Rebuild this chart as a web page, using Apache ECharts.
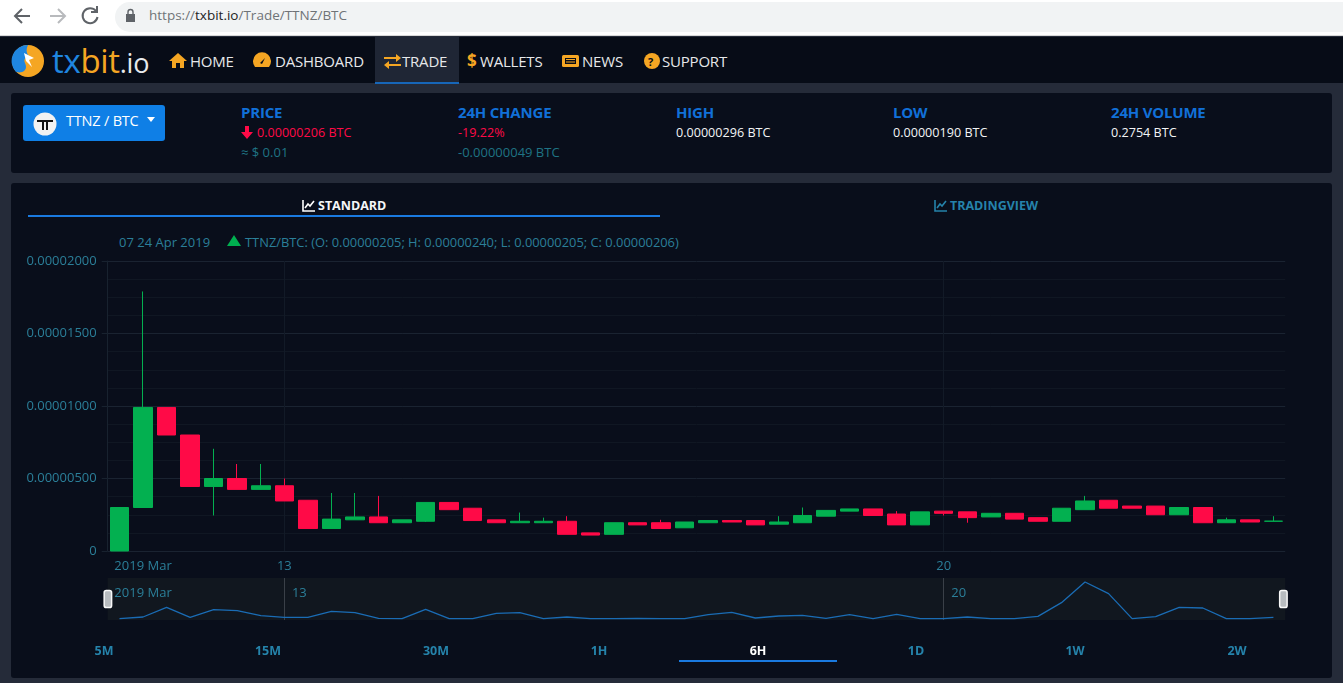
<!DOCTYPE html>
<html>
<head>
<meta charset="utf-8">
<title>TTNZ/BTC</title>
<script src="https://cdn.jsdelivr.net/npm/echarts@6/dist/echarts.min.js"></script>
<style>
  html, body { margin: 0; padding: 0; width: 1343px; height: 683px; overflow: hidden; background: #252b39; font-family: "Open Sans", sans-serif; }
  .abs { position: absolute; white-space: nowrap; line-height: 1; }
  #bar { position: absolute; left: 0; top: 0; width: 1343px; height: 36px; background: #fff; border-bottom: 1px solid #d8d8d8; box-sizing: border-box; }
  #pill { position: absolute; left: 115px; top: 2px; width: 1228px; height: 30px; border-radius: 15px 0 0 15px; background: #f1f3f4; }
  #nav { position: absolute; left: 0; top: 37px; width: 1343px; height: 46px; background: #070c17; }
  #tradeTab { position: absolute; left: 375px; top: 37px; width: 84px; height: 45px; background: #1f2635; border-bottom: 2px solid #1766b8; box-sizing: content-box; }
  .navtxt { color: #e6e8ea; font-size: 15px; top: 54px; letter-spacing: -0.2px; }
  .panel { position: absolute; left: 11px; width: 1321px; background: #090e1b; border-radius: 3px; }
  .hd { color: #1170d8; font-size: 15px; font-weight: 700; top: 105px; letter-spacing: -0.2px; }
  .val { color: #f2f4f6; font-size: 12.6px; top: 127px; }
  .sub { color: #1f7384; font-size: 13px; top: 146px; }
  .red { color: #ff0a47; }
  .tf { color: #2583ab; font-size: 12.5px; font-weight: 700; top: 645px; transform: translateX(-50%); }
  #chart { position: absolute; left: 0; top: 0; width: 1343px; height: 683px; }
</style>
</head>
<body>
<div id="bar"><div id="pill"></div></div>
<svg class="abs" style="left:0;top:0" width="140" height="36" fill="none" stroke-width="2">
  <path d="M30 16H16M22 9l-7 7 7 7" stroke="#5f6368"/>
  <path d="M50 16H64M58 9l7 7-7 7" stroke="#b8babd"/>
  <path d="M96 11a7.5 7.5 0 1 0 1.5 6M97 6v6h-6" stroke="#5f6368"/>
  <rect x="126" y="14" width="9" height="8" fill="#5f6368"/><path d="M128 14v-2a2.5 2.5 0 0 1 5 0v2" stroke="#5f6368" stroke-width="1.4"/>
</svg>
<div class="abs" style="left:149px;top:9px;font-size:13.5px;color:#6f7377">https://<span style="color:#222">txbit.io</span>/Trade/TTNZ/BTC</div>

<div id="nav"></div>
<div id="tradeTab"></div>
<svg class="abs" style="left:10px;top:43px" width="36" height="36">
  <circle cx="18" cy="18" r="16" fill="#f5a623"/>
  <path d="M18 2a16 16 0 0 0-12 27c8 2 12-3 9-9-2-4 1-6 4-7-3-3-3-7-1-11z" fill="#1f86e0"/>
  <path d="M14 10l10 5-5 2 3 7-6-6z" fill="#fff"/>
</svg>
<div class="abs" style="left:52px;top:44px;font-size:33px;letter-spacing:-0.3px;color:#1f86e0;font-family:'Open Sans'">tx<span style="color:#f5a623">bit</span><span style="color:#e8eaec;font-size:27px">.io</span></div>
<svg class="abs" style="left:168px;top:52px" width="570" height="18" fill="#f5a623">
  <path d="M1 9l9-8 9 8h-3v7h-4v-5H8v5H4V9z"/>
  <path d="M87 15a9 9 0 1 1 14 0zM94 12l3-6-5 5z"/>
  <path d="M216 5h12V2l5 4-5 4V7h-12zM233 12h-12V9l-5 4 5 4v-3h12z"/>
  <rect x="394" y="3" width="17" height="12" rx="1.5"/><rect x="397" y="6" width="11" height="6" fill="#070c17"/><rect x="398" y="7" width="9" height="1" /><rect x="398" y="9.5" width="9" height="1"/>
  <circle cx="484" cy="9" r="8"/>
</svg>
<div class="abs" style="left:467px;top:52px;font-size:17px;font-weight:700;color:#f5a623">$</div>
<div class="abs" style="left:648px;top:56px;font-size:11px;font-weight:700;color:#070c17">?</div>
<div class="abs navtxt" style="left:190px">HOME</div>
<div class="abs navtxt" style="left:275px">DASHBOARD</div>
<div class="abs navtxt" style="left:402px">TRADE</div>
<div class="abs navtxt" style="left:480px">WALLETS</div>
<div class="abs navtxt" style="left:582px">NEWS</div>
<div class="abs navtxt" style="left:662px">SUPPORT</div>

<div class="panel" style="top:93px;height:80px"></div>
<div class="panel" style="top:183px;height:495px"></div>

<div class="abs" style="left:23px;top:105px;width:142px;height:36px;background:#0f7fe6;border-radius:3px"></div>
<svg class="abs" style="left:33px;top:112px" width="24" height="24">
  <circle cx="12" cy="12" r="11.5" fill="#f2f2f2"/><path d="M4 8h16v2h-5v8h-2v-8h-2v8H9v-8H4z" fill="#111"/>
</svg>
<div class="abs" style="left:66px;top:114px;color:#fff;font-size:14.5px;letter-spacing:-0.2px">TTNZ / BTC</div>
<svg class="abs" style="left:147px;top:117px" width="9" height="6"><path d="M0 0h8l-4 5z" fill="#fff"/></svg>

<div class="abs hd" style="left:241px">PRICE</div>
<svg class="abs" style="left:241px;top:126px" width="12" height="13"><path d="M4 0h4v6h4l-6 7-6-7h4z" fill="#ff0a47"/></svg>
<div class="abs val red" style="left:257px">0.00000206 BTC</div>
<div class="abs sub" style="left:241px">≈ $ 0.01</div>
<div class="abs hd" style="left:458px">24H CHANGE</div>
<div class="abs val red" style="left:458px">-19.22%</div>
<div class="abs sub" style="left:458px">-0.00000049 BTC</div>
<div class="abs hd" style="left:676px">HIGH</div>
<div class="abs val" style="left:676px">0.00000296 BTC</div>
<div class="abs hd" style="left:893px">LOW</div>
<div class="abs val" style="left:893px">0.00000190 BTC</div>
<div class="abs hd" style="left:1111px">24H VOLUME</div>
<div class="abs val" style="left:1111px">0.2754 BTC</div>

<svg class="abs" style="left:302px;top:200px" width="13" height="12" fill="none" stroke="#fff" stroke-width="1.6"><path d="M1 0v11h12M3 8l3-4 2 2 4-5"/></svg>
<div class="abs" style="left:318px;top:200px;color:#f4f6f8;font-size:12.5px;font-weight:700">STANDARD</div>
<div class="abs" style="left:28px;top:215px;width:632px;height:2px;background:#1a7ae0"></div>
<svg class="abs" style="left:934px;top:200px" width="13" height="12" fill="none" stroke="#2583ab" stroke-width="1.6"><path d="M1 0v11h12M3 8l3-4 2 2 4-5"/></svg>
<div class="abs" style="left:950px;top:200px;color:#2583ab;font-size:12.5px;font-weight:700">TRADINGVIEW</div>

<div class="abs" style="left:119px;top:236px;color:#2b7f99;font-size:13px">07 24 Apr 2019</div>
<svg class="abs" style="left:227px;top:235px" width="14" height="11"><path d="M7 0l7 11H0z" fill="#00b050"/></svg>
<div class="abs" style="left:245px;top:236px;color:#2b7f99;font-size:12.88px">TTNZ/BTC: (O: 0.00000205; H: 0.00000240; L: 0.00000205; C: 0.00000206)</div>

<div id="chart"></div>

<div class="abs tf" style="left:104px">5M</div>
<div class="abs tf" style="left:268px">15M</div>
<div class="abs tf" style="left:436px">30M</div>
<div class="abs tf" style="left:599px">1H</div>
<div class="abs tf" style="left:758px;color:#fff">6H</div>
<div class="abs tf" style="left:916px">1D</div>
<div class="abs tf" style="left:1075px">1W</div>
<div class="abs tf" style="left:1237px">2W</div>
<div class="abs" style="left:679px;top:660px;width:158px;height:2px;background:#1a7ae0"></div>

<script>
// 6H candles, prices in satoshi (1e-8 BTC)
var categories = [
  '03-11 06', '03-11 12', '03-11 18', '03-12 00', '03-12 06', '03-12 12', '03-12 18',
  '03-13 00', '03-13 06', '03-13 12', '03-13 18', '03-14 00', '03-14 06', '03-14 12', '03-14 18',
  '03-15 00', '03-15 06', '03-15 12', '03-15 18', '03-16 00', '03-16 06', '03-16 12', '03-16 18',
  '03-17 00', '03-17 06', '03-17 12', '03-17 18', '03-18 00', '03-18 06', '03-18 12', '03-18 18',
  '03-19 00', '03-19 06', '03-19 12', '03-19 18', '03-20 00', '03-20 06', '03-20 12', '03-20 18',
  '03-21 00', '03-21 06', '03-21 12', '03-21 18', '03-22 00', '03-22 06', '03-22 12', '03-22 18',
  '03-23 00', '03-23 06', '03-23 12'
];
var opens = [0, 300, 990, 800, 445, 500, 425, 450, 350, 155, 215, 235, 195, 205, 335, 295, 215, 195, 195, 205,
  125, 115, 195, 195, 160, 195, 210, 210, 185, 195, 240, 275, 290, 255, 180, 275, 270, 235, 260, 230,
  205, 285, 350, 310, 310, 250, 300, 195, 215, 205];
var closes = [300, 990, 800, 445, 500, 425, 450, 345, 155, 220, 235, 195, 215, 335, 285, 210, 195, 205, 205, 115,
  110, 195, 180, 155, 200, 210, 200, 180, 200, 245, 280, 290, 245, 180, 270, 260, 230, 260, 220, 205,
  295, 345, 295, 295, 250, 300, 195, 215, 200, 206];
var highs = [300, 1790, 990, 800, 705, 600, 600, 500, 350, 400, 400, 380, 215, 335, 335, 295, 215, 265, 230, 240,
  125, 195, 195, 215, 200, 210, 210, 210, 240, 300, 280, 290, 290, 275, 270, 275, 270, 260, 260, 230,
  295, 380, 350, 310, 310, 300, 300, 230, 215, 240];
var lows = [0, 300, 800, 445, 245, 425, 425, 345, 155, 155, 215, 195, 195, 200, 285, 210, 195, 195, 195, 115,
  110, 115, 180, 155, 160, 195, 200, 180, 185, 195, 240, 275, 245, 180, 180, 245, 195, 235, 220, 205,
  205, 285, 295, 295, 250, 250, 195, 195, 200, 205];
// traded volume for the mini chart under the candles
var volumes = [1, 6, 35, 5, 28, 25, 10, 5, 5, 23, 19, 2, 1, 29, 1, 1, 17, 19, 1, 6, 1, 1, 2, 1, 1,
  13, 20, 3, 9, 11, 2, 13, 1, 14, 1, 1, 6, 1, 1, 8, 49, 111, 76, 1, 7, 35, 33, 1, 1, 5];
var tickLabels = { 1: '2019 Mar', 7: '13', 35: '20' };
var dayLines = [7, 35];

var candles = opens.map(function (o, i) {
  return [o, closes[i], lows[i], highs[i]];
});

var myChart = echarts.init(document.getElementById('chart'));
var textColor = '#2b7f99';
var option = {
  animation: false,
  backgroundColor: 'transparent',
  textStyle: { fontFamily: '"Open Sans", sans-serif' },
  grid: [
    { left: 107.7, top: 261, width: 1177.5, height: 290 },
    { left: 107.7, top: 578, width: 1177.5, height: 42, show: true, backgroundColor: '#11171f', borderWidth: 0 }
  ],
  xAxis: [
    {
      type: 'category',
      gridIndex: 0,
      data: categories,
      boundaryGap: true,
      axisLine: { show: false },
      axisTick: { show: false },
      axisLabel: {
        color: textColor,
        fontSize: 13,
        margin: 9,
        interval: function (i) { return tickLabels[i] !== undefined; },
        formatter: function (v, i) { return tickLabels[i] || ''; }
      },
      splitLine: {
        show: true,
        alignWithLabel: true,
        interval: function (i) { return dayLines.indexOf(i) >= 0; },
        lineStyle: { color: '#121a27', width: 1 }
      }
    },
    {
      type: 'category',
      gridIndex: 1,
      data: categories,
      boundaryGap: true,
      position: 'top',
      axisLine: { show: false },
      axisTick: { show: false },
      axisLabel: {
        inside: true,
        color: textColor,
        fontSize: 13,
        margin: 9,
        interval: function (i) { return tickLabels[i] !== undefined; },
        formatter: function (v, i) {
          // day numbers sit to the right of their line
          return i === 1 ? tickLabels[i] : '{day|' + tickLabels[i] + '}';
        },
        rich: { day: { color: textColor, fontSize: 13, padding: [0, 0, 0, 30] } }
      },
      splitLine: {
        show: true,
        alignWithLabel: true,
        interval: function (i) { return dayLines.indexOf(i) >= 0; },
        lineStyle: { color: '#3a4048', width: 1 }
      }
    }
  ],
  yAxis: [
    {
      type: 'value',
      gridIndex: 0,
      min: 0,
      max: 2000,
      interval: 500,
      axisLine: { show: true, lineStyle: { color: '#18222f' } },
      axisTick: { show: true, length: 6, lineStyle: { color: '#18222f' } },
      axisLabel: {
        color: textColor,
        fontSize: 13,
        margin: 11,
        formatter: function (v) { return v === 0 ? '0' : (v * 1e-8).toFixed(8); }
      },
      splitLine: { show: true, lineStyle: { color: '#1a2331', width: 1 } },
      minorTick: { show: false, splitNumber: 4 },
      minorSplitLine: { show: true, lineStyle: { color: '#101723', width: 1 } }
    },
    {
      type: 'value',
      gridIndex: 1,
      min: -3,
      max: 123,
      show: false
    }
  ],
  dataZoom: [
    {
      type: 'slider',
      xAxisIndex: [0, 1],
      start: 0,
      end: 100,
      left: 105.7,
      right: 59.8,
      top: 578,
      height: 42,
      showDetail: false,
      showDataShadow: false,
      brushSelect: false,
      moveHandleSize: 0,
      backgroundColor: 'transparent',
      borderColor: 'transparent',
      fillerColor: 'transparent',
      handleIcon: 'path://M2,0 H5 A2,2 0 0 1 7,2 V14 A2,2 0 0 1 5,16 H2 A2,2 0 0 1 0,14 V2 A2,2 0 0 1 2,0 Z',
      handleSize: 17,
      handleStyle: { color: '#b8bcc0', borderColor: '#f8f8f8', borderWidth: 1.5 }
    }
  ],
  series: [
    {
      name: 'TTNZ/BTC',
      type: 'candlestick',
      xAxisIndex: 0,
      yAxisIndex: 0,
      data: candles,
      barWidth: 19,
      itemStyle: {
        color: '#03b050',
        color0: '#ff0a47',
        borderColor: '#03b050',
        borderColor0: '#ff0a47',
        borderWidth: 1
      }
    },
    {
      name: 'Volume',
      type: 'line',
      xAxisIndex: 1,
      yAxisIndex: 1,
      data: volumes,
      showSymbol: false,
      lineStyle: { color: '#1a6cb4', width: 1.3 }
    }
  ]
};
myChart.setOption(option);
</script>
</body>
</html>
